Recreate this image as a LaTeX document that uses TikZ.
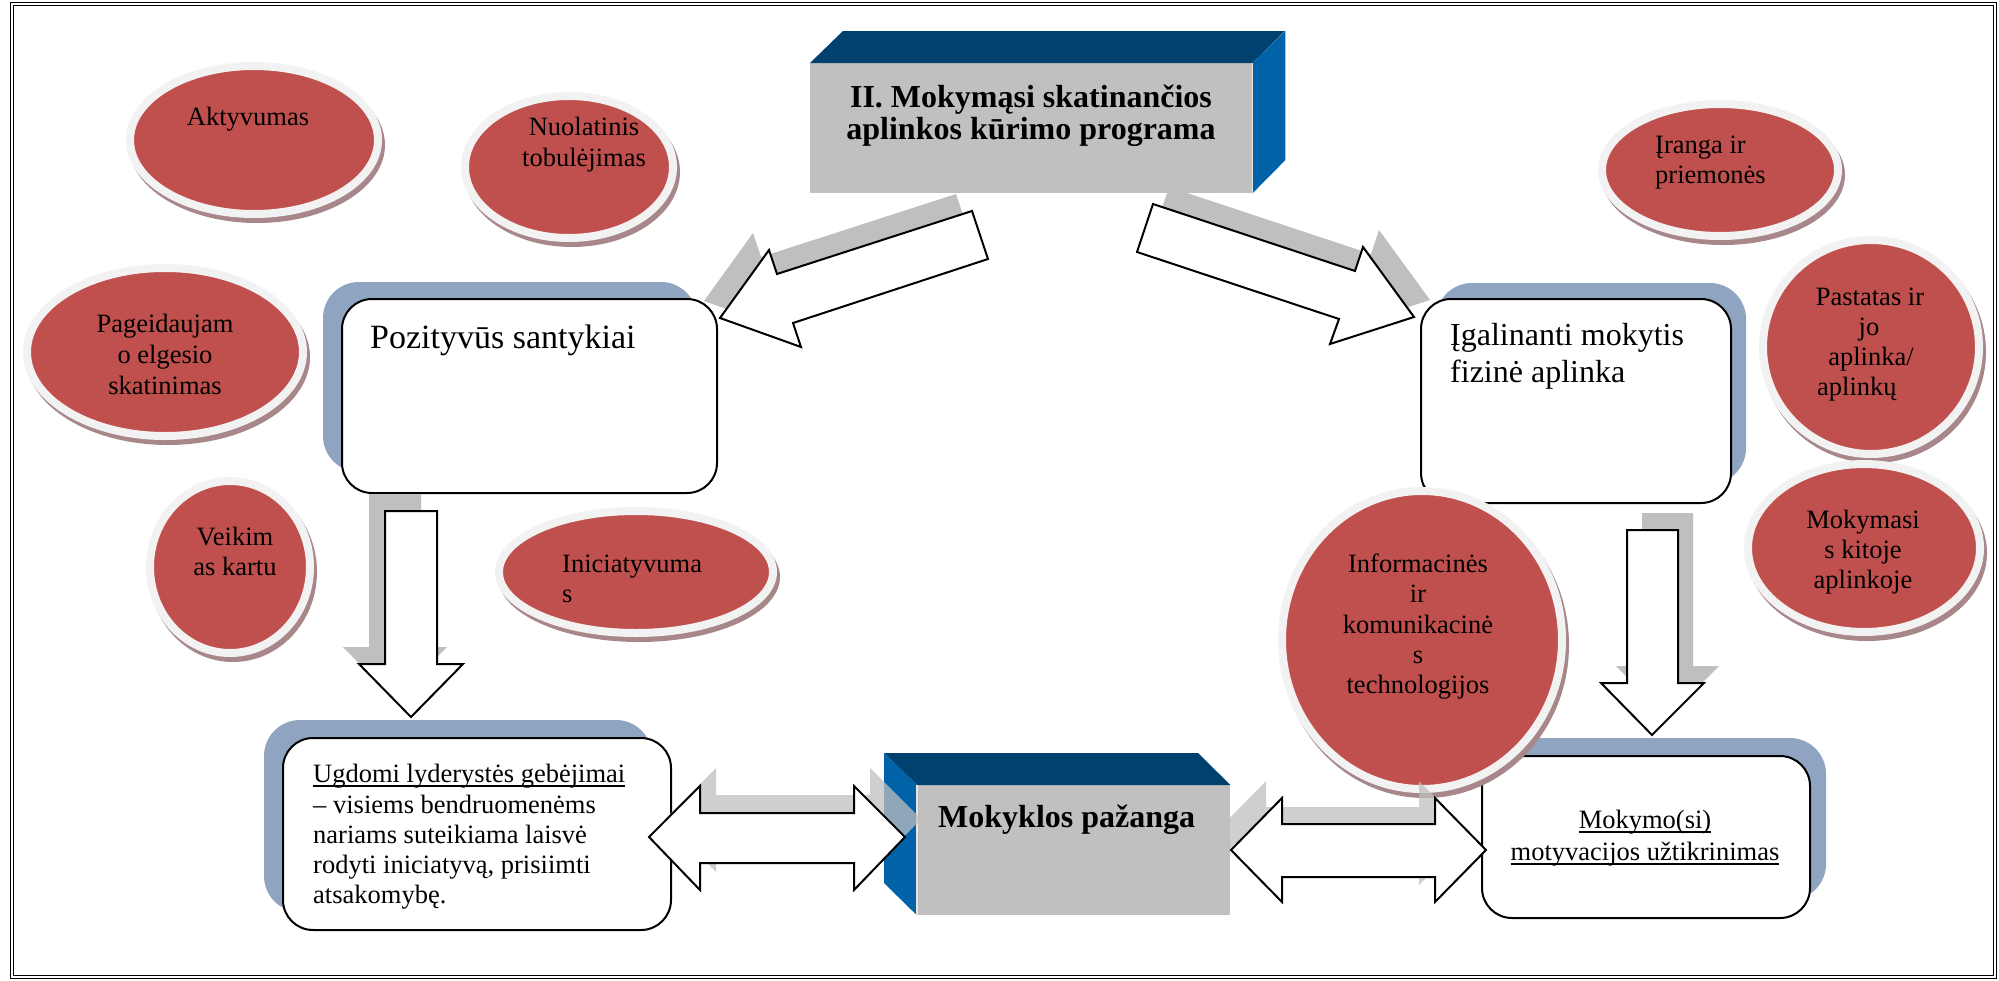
\documentclass[tikz,border=0pt]{standalone}
\usepackage{fontspec}
\setmainfont{Liberation Serif}
\usetikzlibrary{shapes.geometric}
\definecolor{ellred}{HTML}{C0504D}
\definecolor{rimc}{HTML}{F2F2F2}
\definecolor{ellsh}{HTML}{A8878A}
\definecolor{boxsh}{HTML}{8EA4C1}
\definecolor{arrsh}{HTML}{BFBFBF}
\definecolor{faceg}{HTML}{C0C0C0}
\definecolor{topnavy}{HTML}{00416F}
\definecolor{sideblue}{HTML}{0063A8}
\newcommand\myul[1]{\setbox0=\hbox{#1}\rlap{\rule[-4.5pt]{\wd0}{1.4pt}}\box0}
\newcommand\redoval[5]{%
  \fill[ellsh] (#2+3,#3+5) ellipse [x radius=#4, y radius=#5];
  \node[oval, minimum width={2*#4-8}, minimum height={2*#5-8}] (#1) at (#2,#3) {};}
\begin{document}
\begin{tikzpicture}[x=1pt,y=-1pt,
  tx/.style={inner sep=0pt, anchor=base, font=\fontsize{26.5}{30}\selectfont},
  txl/.style={tx, anchor=base west},
  big/.style={inner sep=0pt, anchor=base west, font=\fontsize{32}{37}\selectfont},
  ttl/.style={inner sep=0pt, anchor=base, font=\fontsize{32}{31}\selectfont\bfseries},
  rbox/.style={draw=black, line width=2pt, fill=white, rounded corners=30pt, anchor=north west, inner sep=0pt},
  bshadow/.style={fill=boxsh, rounded corners=36pt},
  arr/.style={draw=black, line width=2pt, fill=white, line join=miter},
  oval/.style={ellipse, fill=ellred, draw=rimc, line width=8pt, inner sep=0pt},
  face/.style={fill=faceg, inner sep=0pt, anchor=north west},
  edgeline/.style={draw=white!80!gray, line width=1.5pt}
]
\useasboundingbox (0,0) rectangle (1999,980);
\fill[white] (0,0) rectangle (1999,980);
\draw[line width=1pt, double distance=1.5pt] (12,4) rectangle (1995,977);

% ---- box shadows and boxes
\fill[bshadow] (323,282) rectangle (697,472);
\node[rbox, minimum width=375pt, minimum height=194pt] (poz) at (341,298) {};
\fill[bshadow] (1436,283) rectangle (1746,484);
\node[rbox, minimum width=310pt, minimum height=204pt] (fiz) at (1420,298) {};
\fill[bshadow] (264,720) rectangle (652,912);
\node[rbox, minimum width=388pt, minimum height=192pt] (lyd) at (282,737) {};
\fill[bshadow] (1497,738) rectangle (1826,900);
\node[rbox, minimum width=328pt, minimum height=162pt] (mot) at (1481,755) {};

% ---- title 3D box
\node[face, minimum width=442pt, minimum height=130pt] (title) at (810,63) {};
\fill[topnavy] (title.north west) -- ++(33,-32) -- ++(442,0) -- (title.north east) -- cycle;
\fill[sideblue] (title.north east) -- ++(33,-32) -- ++(0,129) -- (title.south east) -- cycle;
\draw[edgeline] (title.north east) -- (title.south east);

% ---- diagonal arrows
\def\arrA{(720,318) -- (769,250) -- (777,274) -- (972,211) -- (988,259) -- (793,323) -- (801,347) -- cycle}
\def\arrB{(1414,317) -- (1363,247) -- (1355,271) -- (1153,204) -- (1137,252) -- (1339,319) -- (1330,344) -- cycle}
\fill[arrsh, shift={(-16,-17)}] \arrA;
\draw[arr] \arrA;
\fill[arrsh, shift={(16,-17)}] \arrB;
\draw[arr] \arrB;

% ---- vertical arrows
\def\arrC{(411,717) -- (359,664) -- (385,664) -- (385,511) -- (437,511) -- (437,664) -- (463,664) -- cycle}
\def\arrD{(1652,735) -- (1601,683) -- (1627,683) -- (1627,530) -- (1678,530) -- (1678,683) -- (1704,683) -- cycle}
\fill[arrsh, shift={(-16,-17)}] \arrC;
\draw[arr] \arrC;
\fill[arrsh, shift={(15,-17)}] \arrD;
\draw[arr] \arrD;

% ---- bottom 3D box
\node[face, minimum width=313pt, minimum height=130pt] (paz) at (917,785) {};
\fill[topnavy] (paz.north west) -- ++(-33,-32) -- ++(314,0) -- (paz.north east) -- cycle;
\fill[sideblue] (paz.north west) -- ++(-33,-32) -- ++(0,130) -- (paz.south west) -- cycle;
\draw[edgeline] (paz.north west) -- (paz.south west);

% ---- ellipses
\redoval{akt}{254}{140}{128}{78}
\redoval{nuo}{569}{167}{108}{75}
\redoval{pag}{165}{352}{142}{88}
\redoval{vei}{230}{567}{84}{90}
\redoval{ini}{636}{572}{141}{65}
\redoval{ira}{1720}{170}{122}{70}
\redoval{pas}{1871}{347}{112}{111}
\redoval{kit}{1864}{548}{120}{88}
\redoval{ikt}{1422}{640}{144}{153}

% ---- horizontal double arrows
\def\arrE{(649,837) -- (700,786) -- (700,813) -- (854,813) -- (854,786) -- (905,837) -- (854,890) -- (854,863) -- (700,863) -- (700,890) -- cycle}
\def\arrF{(1231,850) -- (1282,798) -- (1282,824) -- (1435,824) -- (1435,798) -- (1486,850) -- (1435,902) -- (1435,877) -- (1282,877) -- (1282,902) -- cycle}
\fill[arrsh, opacity=0.75, shift={(16,-18)}] \arrE;
\draw[arr] \arrE;
\fill[arrsh, opacity=0.75, shift={(-16,-17)}] \arrF;
\draw[arr] \arrF;

% ---- texts
\node[ttl] (ttl1) at (1031,107) {II. Mokymąsi skatinančios};
\node[ttl] (ttl2) at (1031,139) {aplinkos kūrimo programa};
\node[ttl, anchor=base west] (pazt) at (938,827) {Mokyklos pažanga};
\node[big, font=\fontsize{34}{37}\selectfont] (pozt) at (370,348) {Pozityvūs santykiai};
\node[big] (fiz1) at (1450,345) {Įgalinanti mokytis};
\node[big] (fiz2) at (1450,382) {fizinė aplinka};
\node[txl] (lyd1) at (313,782) {\myul{Ugdomi lyderystės gebėjimai}};
\node[txl] (lyd2) at (313,813) {– visiems bendruomenėms};
\node[txl] (lyd3) at (313,843) {nariams suteikiama laisvė};
\node[txl] (lyd4) at (313,873) {rodyti iniciatyvą, prisiimti};
\node[txl] (lyd5) at (313,903) {atsakomybę.};
\node[tx] (mot1) at (1645,828) {\myul{Mokymo(si)}};
\node[tx] (mot2) at (1645,860) {\myul{motyvacijos užtikrinimas}};

\node[tx] (akt1) at (248,125) {Aktyvumas};
\node[tx] (nuo1) at (584,135) {Nuolatinis};
\node[tx] (nuo2) at (584,166) {tobulėjimas};
\node[tx] (pag1) at (165,332) {Pageidaujam};
\node[tx] (pag2) at (165,363) {o elgesio};
\node[tx] (pag3) at (165,394) {skatinimas};
\node[tx] (vei1) at (235,545) {Veikim};
\node[tx] (vei2) at (235,575) {as kartu};
\node[txl] (ini1) at (562,572) {Iniciatyvuma};
\node[txl] (ini2) at (562,602) {s};
\node[txl] (ira1) at (1655,153) {Įranga ir};
\node[txl] (ira2) at (1655,183) {priemonės};
\node[tx] (pas1) at (1870,305) {Pastatas ir};
\node[tx] (pas2) at (1869,335) {jo};
\node[tx] (pas3) at (1871,365) {aplinka/};
\node[txl] (pas4) at (1817,395) {aplinkų};
\node[tx] (kit1) at (1863,528) {Mokymasi};
\node[tx] (kit2) at (1863,558) {s kitoje};
\node[tx] (kit3) at (1863,588) {aplinkoje};
\node[tx] (ikt1) at (1418,572) {Informacinės};
\node[tx] (ikt2) at (1418,602) {ir};
\node[tx] (ikt3) at (1418,633) {komunikacinė};
\node[tx] (ikt4) at (1418,663) {s};
\node[tx] (ikt5) at (1418,693) {technologijos};
\end{tikzpicture}
\end{document}
